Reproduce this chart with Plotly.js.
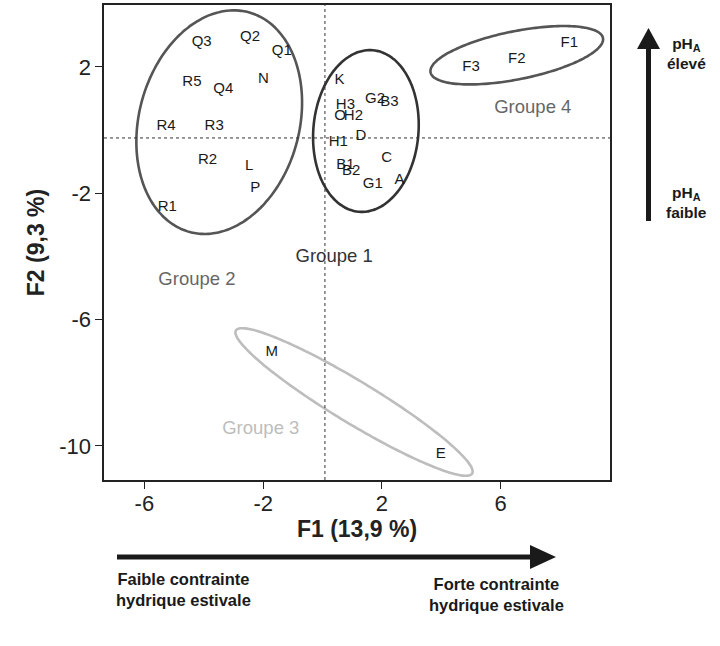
<!DOCTYPE html>
<html><head><meta charset="utf-8">
<script src="https://cdn.plot.ly/plotly-3.0.1.min.js"></script>
<style>body{margin:0;background:#fff}</style>
</head><body><div id="chart" style="width:720px;height:646px"></div>
<script>
// ---- data ----
const pointLabels = ['Q3','Q2','Q1','R5','Q4','N','R4','R3','R2','L','P','R1',
  'K','H3','O','H2','G2','B3','D','H1','C','B1','B2','G1','A',
  'F1','F2','F3','M','E'];
const f1Scores = [-4.07,-2.44,-1.37,-4.40,-3.34,-1.99,-5.27,-3.65,-3.87,-2.47,-2.27,-5.23,
  0.57,0.77,0.59,1.04,1.77,2.25,1.29,0.53,2.16,0.77,0.96,1.69,2.59,
  8.31,6.54,5.00,-1.71,3.98];
const f2Scores = [2.79,2.93,2.51,1.53,1.29,1.60,0.13,0.13,-0.97,-1.14,-1.84,-2.43,
  1.57,0.78,0.43,0.44,0.97,0.88,-0.19,-0.40,-0.90,-1.12,-1.29,-1.71,-1.58,
  2.76,2.24,2.00,-7.02,-10.28];

const groupNames = ['Groupe 1','Groupe 2','Groupe 3','Groupe 4'];
const groupCenterX = [1.46, -3.48, 1.06, 6.54];
const groupCenterY = [-0.03, 0.25, -8.61, 2.37];
const groupSemiMajor = [2.73, 3.83, 4.65, 2.96];
const groupSemiMinor = [1.77, 2.70, 0.71, 0.81];
const groupAngleDeg = [85, 75, -31.2, 11.3];
const groupLabelX = [0.39, -4.23, -2.08, 7.08];
const groupLabelY = [-4.02, -4.75, -9.49, 0.69];
const groupLineColors = ['#333333','#555555','#bdbdbd','#555555'];
const groupTextColors = ['#333333','#666666','#bdbdbd','#666666'];

const xTicks = [-6,-2,2,6];
const yTicks = [2,-2,-6,-10];
const xRange = [-7.36, 9.68];
const yRange = [-11.08, 3.96];
const refLineX = 0.08, refLineY = -0.25;

// ---- layout geometry ----
const W = 720, H = 646;
const M = {l:104, r:110, t:5, b:166};
const plotW = W - M.l - M.r, plotH = H - M.t - M.b;
const pxPerX = plotW / (xRange[1]-xRange[0]);
const pxPerY = plotH / (yRange[1]-yRange[0]);
const ratio = pxPerX / pxPerY;
const FONT = '"Liberation Sans", Arial, sans-serif';

const traces = [];
for (let g = 0; g < groupNames.length; g++) {
  const xs = [], ys = [];
  const phi = groupAngleDeg[g] * Math.PI / 180;
  const a = groupSemiMajor[g], b = groupSemiMinor[g];
  for (let i = 0; i <= 160; i++) {
    const t = 2*Math.PI*i/160;
    const dx = a*Math.cos(t)*Math.cos(phi) - b*Math.sin(t)*Math.sin(phi);
    const dy = a*Math.cos(t)*Math.sin(phi) + b*Math.sin(t)*Math.cos(phi);
    xs.push(groupCenterX[g] + dx);
    ys.push(groupCenterY[g] + dy*ratio);
  }
  traces.push({x: xs, y: ys, mode: 'lines', type: 'scatter', hoverinfo: 'skip',
    line: {color: groupLineColors[g], width: 2.6, shape: 'spline'}, showlegend: false});
}
traces.push({x: f1Scores, y: f2Scores, text: pointLabels, mode: 'text', type: 'scatter',
  textposition: 'middle center', textfont: {family: FONT, size: 15, color: '#1a1a1a'}, showlegend: false});
traces.push({x: groupLabelX, y: groupLabelY, text: groupNames, mode: 'text', type: 'scatter',
  textposition: 'middle center', textfont: {family: FONT, size: 18.5, color: groupTextColors}, showlegend: false});

function px(X){ return (X - M.l)/plotW; }
function py(Y){ return (H - M.b - Y)/plotH; }

const shapes = [
  {type:'line', xref:'x', yref:'paper', x0:refLineX, x1:refLineX, y0:0, y1:1, line:{color:'#333', width:1, dash:'dot'}},
  {type:'line', xref:'paper', yref:'y', x0:0, x1:1, y0:refLineY, y1:refLineY, line:{color:'#333', width:1, dash:'dot'}},
  // horizontal arrow
  {type:'line', xref:'paper', yref:'paper', x0:px(117), x1:px(533), y0:py(557), y1:py(557), line:{color:'#1a1a1a', width:5}},
  {type:'path', xref:'paper', yref:'paper', path:`M ${px(530)} ${py(545)} L ${px(556)} ${py(557)} L ${px(530)} ${py(569)} Z`, fillcolor:'#1a1a1a', line:{width:0}},
  // vertical arrow
  {type:'line', xref:'paper', yref:'paper', x0:px(648.5), x1:px(648.5), y0:py(221), y1:py(47), line:{color:'#1a1a1a', width:5}},
  {type:'path', xref:'paper', yref:'paper', path:`M ${px(637)} ${py(49)} L ${px(648.5)} ${py(28)} L ${px(660)} ${py(49)} Z`, fillcolor:'#1a1a1a', line:{width:0}}
];

const annFont = {family: FONT, size: 16.5, color: '#1a1a1a'};
const phFont = {family: FONT, size: 15.5, color: '#1a1a1a'};
const annotations = [
  {xref:'paper', yref:'paper', x:px(183), y:py(589), text:'<b>Faible contrainte<br>hydrique estivale</b>', showarrow:false, font:annFont, xanchor:'center', yanchor:'middle'},
  {xref:'paper', yref:'paper', x:px(496), y:py(594), text:'<b>Forte contrainte<br>hydrique estivale</b>', showarrow:false, font:annFont, xanchor:'center', yanchor:'middle'},
  {xref:'paper', yref:'paper', x:px(686), y:py(53), text:'<b>pH<sub>A</sub><br>élevé</b>', showarrow:false, font:phFont, xanchor:'center', yanchor:'middle'},
  {xref:'paper', yref:'paper', x:px(686), y:py(202), text:'<b>pH<sub>A</sub><br>faible</b>', showarrow:false, font:phFont, xanchor:'center', yanchor:'middle'}
];

const axisCommon = {showgrid:false, zeroline:false, showline:true, mirror:true, linecolor:'#222', linewidth:1.6,
  ticks:'outside', ticklen:7, tickwidth:1, tickcolor:'#222', tickfont:{family:FONT, size:22, color:'#222'}};

const layout = {
  width: W, height: H, margin: M, paper_bgcolor:'#fff', plot_bgcolor:'#fff',
  xaxis: Object.assign({}, axisCommon, {range:xRange, tickmode:'array', tickvals:xTicks, ticktext:xTicks.map(String),
    ticklabelstandoff:-4,
    title:{text:'<b>F1 (13,9 %)</b>', font:{family:FONT, size:23, color:'#222'}, standoff:0}}),
  yaxis: Object.assign({}, axisCommon, {range:yRange, tickmode:'array', tickvals:yTicks, ticktext:yTicks.map(String),
    title:{text:'<b>F2 (9,3 %)</b>', font:{family:FONT, size:23, color:'#222'}, standoff:8}}),
  shapes: shapes, annotations: annotations, showlegend:false
};
Plotly.newPlot('chart', traces, layout, {displayModeBar:false, staticPlot:true});
</script></body></html>
